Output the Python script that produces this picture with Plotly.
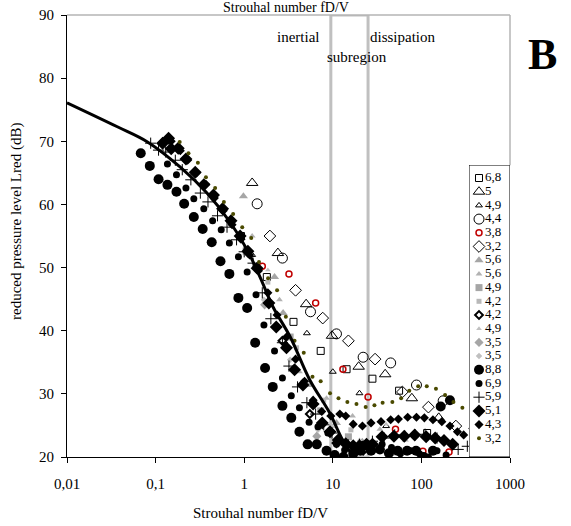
import plotly.graph_objects as go

# ---- data (Strouhal number, reduced level in dB) ----
curve_x = [0.01, 0.037, 0.081, 0.19, 0.38, 0.70, 1.08, 1.51, 2.11, 3.31, 5.5, 9.2, 12.9, 17.2]
curve_y = [76.1, 72.3, 69.9, 65.9, 61.8, 57.1, 52.8, 48.5, 43.8, 39.0, 32.2, 27.0, 22.7, 20.0]

sq68_x = [0.92, 1.8, 3.6, 7.3, 14.3, 28, 56, 116]
sq68_y = [55.0, 48.5, 41.4, 36.8, 33.9, 32.4, 30.5, 23.8]

tri5_x = [1.23, 2.4, 5.0, 9.8, 19.6, 39, 78, 157]
tri5_y = [63.4, 52.3, 44.2, 39.2, 34.3, 33.1, 29.3, 26.2]

tri49_x = [1.23, 5.1, 10, 20, 40]
tri49_y = [52.0, 39.6, 33.5, 30.1, 24.9]

circ44_x = [1.4, 2.7, 5.6, 11, 22, 45, 88, 176]
circ44_y = [60.1, 51.5, 43.0, 39.5, 35.8, 34.9, 31.4, 28.9]

red38_x = [1.6, 3.2, 6.4, 13, 25, 51, 104, 205]
red38_y = [50.2, 49.0, 44.4, 33.9, 29.5, 24.4, 20.9, 20.8]

dia32_x = [1.95, 3.8, 7.7, 15, 30, 61, 120, 245]
dia32_y = [55.0, 46.4, 42.0, 38.4, 35.5, 30.3, 27.9, 24.9]

gtri56_x = [0.98, 2.2, 2.75, 5.5, 11, 21.5]
gtri56_y = [61.3, 48.5, 42.8, 31.4, 25.4, 22.4]

gtri56s_x = [1.23, 2.5, 4.2, 8.5, 16.7, 34, 66]
gtri56s_y = [55.0, 44.9, 33.5, 29.3, 26.5, 24.4, 22.7]

gsq49_x = [1.05, 3.3, 7.3, 15, 50]
gsq49_y = [52.6, 39.0, 27.3, 23.2, 20.8]

gsq42_x = [1.85, 3.9, 7.9, 16, 34]
gsq42_y = [47.7, 37.3, 29.0, 24.3, 21.1]

odia42_x = [2.7, 5.5, 11, 22]
odia42_y = [38.4, 26.8, 22.2, 21.0]

gtri49_x = [1.85, 5.0, 10, 20, 40]
gtri49_y = [49.6, 31.4, 24.8, 22.7, 25.2]

gdia35_x = [1.7, 6.6, 13]
gdia35_y = [44.1, 23.3, 20.3]

gdia35s_x = [1.67, 3.3, 6.8, 14]
gdia35s_y = [44.9, 35.4, 24.3, 21.1]

dot88_x = [0.068, 0.086, 0.108, 0.136, 0.172, 0.21, 0.27, 0.34, 0.43, 0.54, 0.68, 0.86,
           1.08, 1.33, 1.72, 2.1, 2.7, 3.4, 4.2, 5.2, 6.6, 8.5, 10.5, 13.2, 17, 20.5,
           27, 34, 43, 54, 69, 87, 106, 135, 165, 210]
dot88_y = [68.1, 66.1, 64.0, 63.1, 62.0, 60.1, 58.0, 56.1, 54.0, 51.0, 49.0, 45.2,
           43.6, 38.1, 34.1, 31.1, 28.1, 26.2, 24.0, 22.0, 22.0, 21.0, 20.3, 20.0, 20.5, 21.0,
           21.0, 21.2, 20.6, 21.0, 21.0, 21.0, 20.0, 21.0, 28.0, 29.0]

dot69_x = [0.136, 0.172, 0.22, 0.27, 0.35, 0.44, 0.55, 0.68, 0.86, 1.08, 1.36, 1.67,
           2.2, 2.7, 3.4, 4.2, 5.4, 6.8, 8.8, 11, 13.6, 17, 22, 28, 36, 46, 58, 75, 95,
           120, 150, 190]
dot69_y = [66.4, 64.7, 62.6, 60.9, 59.3, 57.4, 56.0, 53.9, 51.7, 49.3, 45.7, 40.9,
           36.8, 32.5, 29.7, 27.8, 25.5, 24.8, 23.8, 22.0, 21.1, 21.5, 22.0, 21.0, 22.0,
           21.5, 20.5, 21.0, 20.5, 20.0, 21.0, 20.3]

plus59_x = [0.088, 0.108, 0.13, 0.167, 0.2, 0.25, 0.32, 0.39, 0.5, 0.64, 0.82, 1.0, 1.26,
            1.6, 2.0, 2.7, 3.2, 4.0, 5.1, 6.4, 7.9, 9.8, 12, 15, 20, 28, 38, 50, 65, 85,
            110, 150, 260, 330]
plus59_y = [69.7, 68.6, 68.3, 67.0, 65.5, 63.9, 61.8, 60.4, 58.2, 56.4, 54.4, 52.5, 50.7,
            46.0, 41.9, 38.1, 34.4, 31.1, 28.6, 26.8, 25.1, 23.8, 22.7, 21.9, 22.0, 22.5,
            23.0, 23.5, 23.3, 23.5, 23.6, 23.0, 21.2, 21.7]

dia51_x = [0.12, 0.14, 0.15, 0.18, 0.22, 0.28, 0.35, 0.45, 0.57, 0.71, 0.9, 1.1, 1.4,
           1.9, 2.3, 3.0, 3.7, 4.6, 6.0, 7.6, 9.3, 11.5, 14, 17, 20, 24, 28, 36, 49, 64,
           84, 113, 143, 180, 225]
dia51_y = [69.7, 70.5, 68.8, 68.9, 67.2, 65.1, 63.1, 61.5, 59.3, 57.4, 55.0, 52.6, 49.9,
           44.4, 40.6, 37.3, 33.8, 31.4, 28.4, 25.4, 24.0, 22.7, 22.1, 21.8, 21.8, 22.0,
           22.0, 23.2, 23.3, 23.3, 23.5, 23.2, 23.0, 22.6, 22.0]

dia43_x = [0.15, 0.19, 0.23, 0.29, 0.37, 0.46, 0.58, 0.73, 0.92, 1.15, 1.45, 1.85, 2.35,
           3.0, 3.8, 4.8, 6.0, 7.5, 9.5, 12, 14, 17, 21.6, 27, 35, 45, 55, 70, 88, 108,
           135, 170, 210, 255, 300, 380]
dia43_y = [70.0, 68.5, 67.0, 65.0, 63.2, 61.0, 59.0, 56.8, 54.5, 52.0, 49.5, 46.0, 42.5,
           39.0, 35.5, 32.0, 29.0, 27.2, 26.5, 26.8, 26.5, 25.2, 24.9, 25.4, 25.6, 25.9,
           26.0, 26.3, 26.3, 26.2, 25.9, 25.6, 24.9, 24.0, 23.5, 24.5]

olive32_x = [0.187, 0.235, 0.3, 0.37, 0.47, 0.59, 0.75, 0.95, 1.2, 1.47, 1.86, 2.35, 2.95,
             3.7, 4.7, 5.9, 7.3, 9.3, 11.6, 14.6, 18.5, 23.5, 29.5, 36.5, 47, 59, 73, 92,
             115, 146, 185, 230, 290]
olive32_y = [69.9, 68.1, 66.6, 64.3, 62.6, 60.4, 58.5, 56.4, 54.7, 50.9, 48.3, 46.4, 42.2,
             38.4, 36.5, 32.7, 32.0, 30.1, 29.3, 28.7, 28.4, 27.9, 28.2, 28.6, 28.7, 29.3,
             30.5, 31.2, 31.2, 30.8, 29.8, 28.7, 27.8]

legend_labels = ["6,8", "5", "4,9", "4,4", "3,8", "3,2", "5,6", "5,6", "4,9", "4,2",
                 "4,2", "4,9", "3,5", "3,5", "8,8", "6,9", "5,9", "5,1", "4,3", "3,2"]

x_ticks = [0.01, 0.1, 1, 10, 100, 1000]
x_ticktext = ["0,01", "0,1", "1", "10", "100", "1000"]
y_ticks = [20, 30, 40, 50, 60, 70, 80, 90]

# ---- marker styles, same order as legend ----
def style(symbol, size, color="black", lw=0, lcolor=None):
    return dict(symbol=symbol, size=size, color=color,
                line=dict(width=lw, color=lcolor or color))

series = [
    (sq68_x, sq68_y, style("square-open", 7, lw=1)),
    (tri5_x, tri5_y, style("triangle-up-open", 10, lw=1)),
    (tri49_x, tri49_y, style("triangle-up-open", 6, lw=1)),
    (circ44_x, circ44_y, style("circle-open", 10, lw=1)),
    (red38_x, red38_y, style("circle-open", 6, color="#c00000", lw=1.5)),
    (dia32_x, dia32_y, style("diamond-open", 9, lw=1)),
    (gtri56_x, gtri56_y, style("triangle-up", 8, color="#a6a6a6")),
    (gtri56s_x, gtri56s_y, style("triangle-up", 6, color="#b2b2b2")),
    (gsq49_x, gsq49_y, style("square", 7, color="#a6a6a6")),
    (gsq42_x, gsq42_y, style("square", 5, color="#b8b8b8")),
    (odia42_x, odia42_y, style("diamond-open", 6, lw=2)),
    (gtri49_x, gtri49_y, style("triangle-up", 5, color="#c0c0c0")),
    (gdia35_x, gdia35_y, style("diamond", 7, color="#a6a6a6")),
    (gdia35s_x, gdia35s_y, style("diamond", 5, color="#c0c0c0")),
    (dot88_x, dot88_y, style("circle", 10)),
    (dot69_x, dot69_y, style("circle", 7)),
    (plus59_x, plus59_y, style("cross-thin", 8, lw=1)),
    (dia51_x, dia51_y, style("diamond", 10)),
    (dia43_x, dia43_y, style("diamond", 7)),
    (olive32_x, olive32_y, style("circle", 4, color="#4a4a00")),
]

fig = go.Figure()

for xs, ys, mk in series:
    fig.add_trace(go.Scatter(x=xs, y=ys, mode="markers", marker=mk, showlegend=False))

# fitted curve
fig.add_trace(go.Scatter(x=curve_x, y=curve_y, mode="lines",
                         line=dict(color="black", width=3, shape="spline"),
                         showlegend=False))

# ---- hand-made legend in its own small subplot (pixel units) ----
L, R, T, B = 469, 510, 165, 457
fig.add_trace(go.Scatter(x=[L, R, R, L, L], y=[T, T, B, B, T], xaxis="x2", yaxis="y2",
                         mode="lines", fill="toself", fillcolor="white",
                         line=dict(color="black", width=1), cliponaxis=False,
                         showlegend=False, hoverinfo="skip"))
row_y = [178 + 13.7 * i for i in range(len(legend_labels))]
for i, (_, _, mk) in enumerate(series):
    fig.add_trace(go.Scatter(x=[479], y=[row_y[i]], xaxis="x2", yaxis="y2",
                             mode="markers", marker=mk, cliponaxis=False,
                             showlegend=False))
fig.add_trace(go.Scatter(x=[485] * len(legend_labels), y=row_y, xaxis="x2", yaxis="y2",
                         mode="text", text=legend_labels, textposition="middle right",
                         textfont=dict(size=13), cliponaxis=False, showlegend=False))

# inertial subregion box
fig.add_shape(type="rect", xref="x", yref="y", x0=9.5, x1=25, y0=20, y1=90,
              line=dict(color="#c0c0c0", width=3), layer="below")

# grey frame on top and right
grey = dict(color="#b4b4b4", width=1.5)
fig.add_shape(type="line", xref="paper", yref="paper", x0=0, x1=1, y0=1, y1=1, line=grey)
fig.add_shape(type="line", xref="paper", yref="paper", x0=1, x1=1, y0=1, y1=0.66, line=grey)

PL, PR, PT, PB = 67, 510, 15, 457
def px(xp):
    return (xp - PL) / (PR - PL)
def py(yp):
    return (PB - yp) / (PB - PT)

def note(text, xp, yp, size=15, **kw):
    fig.add_annotation(text=text, xref="paper", yref="paper", x=px(xp), y=py(yp),
                       showarrow=False, font=dict(size=size), xanchor="center",
                       yanchor="middle", **kw)

note("inertial", 298, 37)
note("dissipation", 403, 37)
note("subregion", 357, 57)
note("<b>B</b>", 542, 54, size=44)
note("Strouhal number fD/V", 260, 513)
note("Strouhal number fD/V", 286, 7, size=14)
note("reduced pressure level Lred (dB)", 16, 222, textangle=-90)

fig.update_layout(
    template="none",
    width=571, height=526,
    margin=dict(l=PL, r=571 - PR, t=PT, b=526 - PB, pad=0, autoexpand=False),
    paper_bgcolor="white", plot_bgcolor="white",
    font=dict(family="Liberation Serif", size=15, color="black"),
    showlegend=False,
    xaxis=dict(type="log", range=[-2, 3], tickvals=x_ticks, ticktext=x_ticktext,
               ticks="outside", ticklen=5, tickcolor="black", showline=True,
               linecolor="black", linewidth=1, showgrid=False, zeroline=False,
               ticklabelstandoff=8, automargin=False),
    yaxis=dict(range=[20, 90], tickvals=y_ticks, ticks="outside", ticklen=5,
               tickcolor="black", showline=True, linecolor="black", linewidth=1,
               showgrid=False, zeroline=False, ticklabelstandoff=4, automargin=False),
    xaxis2=dict(domain=[px(L), 1], range=[L, R], visible=False, anchor="y2"),
    yaxis2=dict(domain=[0, py(T)], range=[B, T], visible=False, anchor="x2"),
)

# the page body has a default 8px margin; drop it so the figure sits at the window corner
fig.write_html("out.html", config={"displayModeBar": False},
               post_script="document.body.style.margin='0';")
